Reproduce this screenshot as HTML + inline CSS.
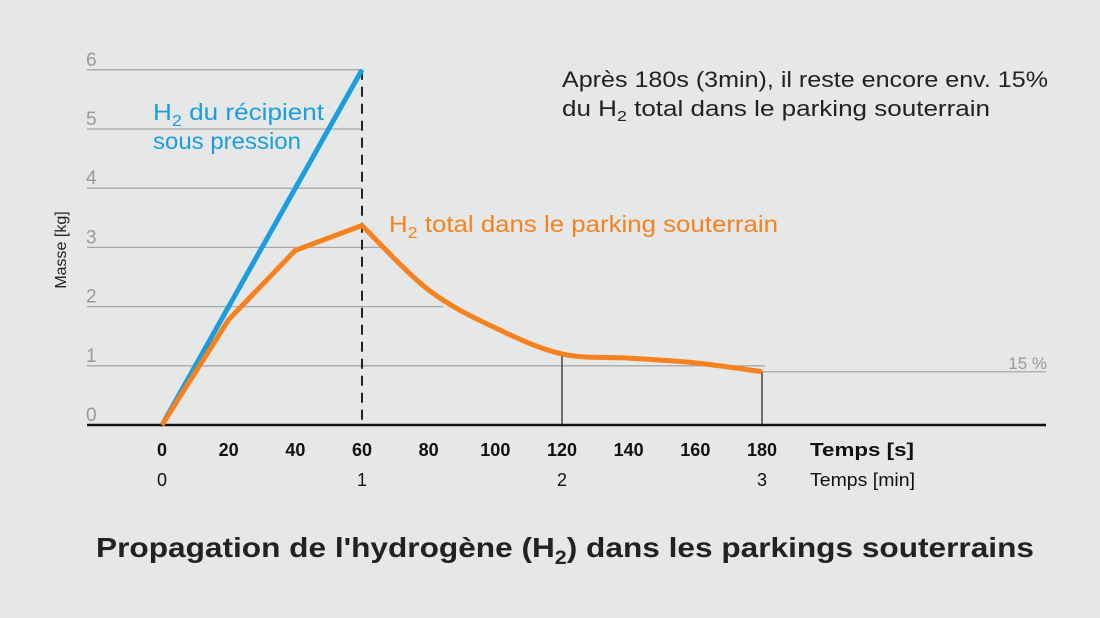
<!DOCTYPE html>
<html><head><meta charset="utf-8"><style>
body{margin:0;background:#e6e7e7;}
svg{display:block;font-family:"Liberation Sans",sans-serif;}
</style></head><body>
<svg width="1100" height="618" viewBox="0 0 1100 618" id="chart">
<rect width="1100" height="618" fill="#e6e7e7"/>
<g id="grid"></g>
<g id="marks"></g>
<g id="labels"></g>
<text x="562" y="87" font-size="22" fill="#222" textLength="486" lengthAdjust="spacingAndGlyphs">Après 180s (3min), il reste encore env. 15%</text>
<text x="562" y="116" font-size="22" fill="#222" textLength="428" lengthAdjust="spacingAndGlyphs">du H<tspan font-size="15" dy="5">2</tspan><tspan dy="-5"> total dans le parking souterrain</tspan></text>
<text x="153" y="120" font-size="23" fill="#1a9ee0" textLength="171" lengthAdjust="spacingAndGlyphs">H<tspan font-size="16" dy="6">2</tspan><tspan dy="-6"> du récipient</tspan></text>
<text x="153" y="149" font-size="23" fill="#1a9ee0" textLength="148" lengthAdjust="spacingAndGlyphs">sous pression</text>
<text x="389" y="232" font-size="23" fill="#f5821f" textLength="389" lengthAdjust="spacingAndGlyphs">H<tspan font-size="16" dy="6">2</tspan><tspan dy="-6"> total dans le parking souterrain</tspan></text>
<text x="1047" y="369" font-size="17" fill="#999" text-anchor="end">15 %</text>
<text transform="translate(66,250) rotate(-90)" font-size="16" fill="#222" text-anchor="middle">Masse [kg]</text>
<text x="810" y="456" font-size="18" font-weight="bold" fill="#111" textLength="104" lengthAdjust="spacingAndGlyphs">Temps [s]</text>
<text x="810" y="486" font-size="18" fill="#111" textLength="105" lengthAdjust="spacingAndGlyphs">Temps [min]</text>
<text x="96" y="557" font-size="28" font-weight="bold" fill="#222" textLength="938" lengthAdjust="spacingAndGlyphs">Propagation de l'hydrogène (H<tspan font-size="19" dy="7">2</tspan><tspan dy="-7">) dans les parkings souterrains</tspan></text>
</svg>
<script>
const yTicks=[0,1,2,3,4,5,6];
const gridEnds=[1046,765,443,380,362,362,362];
const xTicks=[0,20,40,60,80,100,120,140,160,180];
const minTicks=[0,1,2,3];
const blueT=[0,60];
const blueV=[0,6];
const orangeT=[0,20,40,60,80,100,120,140,160,180];
const orangeV=[0,1.78,2.95,3.37,2.28,1.64,1.2,1.13,1.05,0.9];
const finalPct=0.9;
const X=t=>162+t*(200/60);
const Y=v=>425-v*59.2;
const NS='http://www.w3.org/2000/svg';
function mk(tag,attrs,parent,txt){const e=document.createElementNS(NS,tag);for(const k in attrs)e.setAttribute(k,attrs[k]);if(txt!==undefined)e.textContent=txt;document.getElementById(parent).appendChild(e);return e;}
yTicks.forEach((v,i)=>{
 if(v>0){const l=mk('line',{x1:87,x2:gridEnds[i],y1:Y(v),y2:Y(v),stroke:'#a8a8a8','stroke-width':1.3},'grid');
 
 }
 const t=mk('text',{x:86,y:Y(v)-4,'font-size':19,fill:'#999'},'labels',String(v));
 
 
});
const p15=mk('line',{x1:X(180),x2:1046,y1:Y(finalPct),y2:Y(finalPct),stroke:'#a8a8a8','stroke-width':1.3},'grid');


const ax=mk('line',{x1:87,x2:1046,y1:425,y2:425,stroke:'#111','stroke-width':2.5},'grid');


const dl=mk('line',{x1:X(60),x2:X(60),y1:Y(6),y2:425,stroke:'#222','stroke-width':2,'stroke-dasharray':'10,7'},'grid');


[120,180].forEach(t=>{const v=orangeV[orangeT.indexOf(t)];
 const l=mk('line',{x1:X(t),x2:X(t),y1:Y(v),y2:425,stroke:'#222','stroke-width':1.2},'grid');
 
 });
xTicks.forEach(t=>{const e=mk('text',{x:X(t),y:456,'font-size':18,'font-weight':'bold',fill:'#111','text-anchor':'middle'},'labels',String(t));
 
 });
minTicks.forEach(m=>{const e=mk('text',{x:X(m*60),y:486,'font-size':18,fill:'#111','text-anchor':'middle'},'labels',String(m));
 
 });
const b=mk('polyline',{points:blueT.map((t,i)=>X(t)+','+Y(blueV[i])).join(' '),fill:'none',stroke:'#1a9ee0','stroke-width':5},'marks');


const pts=orangeT.map((t,i)=>[X(t),Y(orangeV[i])]);
let d='M'+pts[0].join(',');
for(let i=1;i<=3;i++)d+=' L'+pts[i].join(',');
for(let i=3;i<pts.length-1;i++){const p0=pts[Math.max(i-1,3)],p1=pts[i],p2=pts[i+1],p3=pts[Math.min(i+2,pts.length-1)];
 const c1=[p1[0]+(p2[0]-p0[0])/6,p1[1]+(p2[1]-p0[1])/6],c2=[p2[0]-(p3[0]-p1[0])/6,p2[1]-(p3[1]-p1[1])/6];
 d+=' C'+c1.join(',')+' '+c2.join(',')+' '+p2.join(',');}
const o=mk('path',{d:d,fill:'none',stroke:'#f5821f','stroke-width':5,'stroke-linejoin':'round'},'marks');


</script>
</body></html>
